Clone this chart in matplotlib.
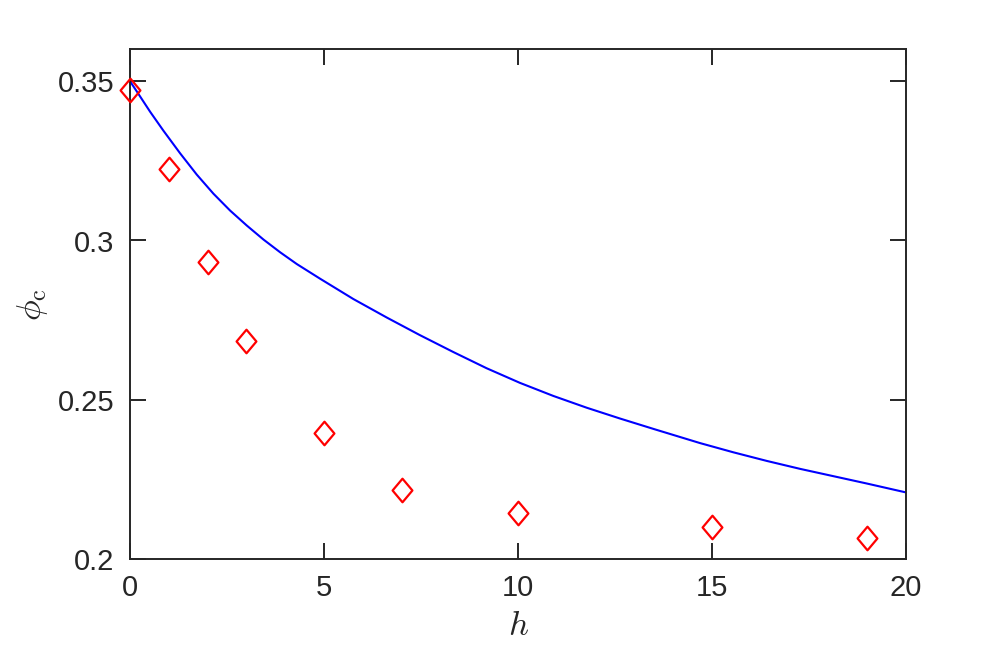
import matplotlib
matplotlib.use('Agg')
import matplotlib.pyplot as plt
from matplotlib.path import Path

# model curve
h_curve = [0, 0.17, 0.52, 0.86, 1.29, 1.72, 2.15, 2.58, 3.01, 3.44, 3.87, 4.30,
           4.90, 5.76, 6.62, 7.47, 8.33, 9.19, 10.05, 10.91, 11.77, 12.63,
           13.53, 14.69, 15.55, 16.41, 17.27, 18.13, 18.99, 20.0]
phi_curve = [0.3500, 0.3469, 0.3404, 0.3345, 0.3274, 0.3207, 0.3147, 0.3094,
             0.3047, 0.3003, 0.2963, 0.2926, 0.2880, 0.2816, 0.2758, 0.2703,
             0.2650, 0.2599, 0.2553, 0.2512, 0.2475, 0.2441, 0.2407, 0.2364,
             0.2335, 0.2308, 0.2283, 0.2260, 0.2237, 0.2209]

# simulation points
h_sim = [0, 1, 2, 3, 5, 7, 10, 15, 19]
phi_sim = [0.3471, 0.3225, 0.2934, 0.2686, 0.2396, 0.2216, 0.2143, 0.2101, 0.2065]

x_ticks = [0, 5, 10, 15, 20]
y_ticks = [0.2, 0.25, 0.3, 0.35]
y_ticklabels = ['0.2', '0.25', '0.3', '0.35']

plt.rcParams['mathtext.fontset'] = 'cm'
plt.rcParams['font.family'] = ['Liberation Sans', 'DejaVu Sans']

# matlab style diamond (taller than wide)
diamond = Path([(0, 1), (0.84, 0), (0, -1), (-0.84, 0), (0, 1)],
               [Path.MOVETO, Path.LINETO, Path.LINETO, Path.LINETO, Path.CLOSEPOLY])

fig = plt.figure(figsize=(10, 6.5), dpi=100)
ax = fig.add_axes([0.13, 0.14, 0.776, 0.784])

ax.plot(h_curve, phi_curve, color=(0, 0, 1), lw=1.5, zorder=2)
ax.plot(h_sim, phi_sim, ls='none', marker=diamond, ms=17, mfc='none',
        mec=(1, 0, 0), mew=1.6, zorder=3, clip_on=False)

ax.set_xlim(0, 20)
ax.set_ylim(0.2, 0.36)
ax.set_xticks(x_ticks)
ax.set_yticks(y_ticks)
ax.set_yticklabels(y_ticklabels)

dark = '#262626'
for s in ax.spines.values():
    s.set_color(dark)
    s.set_linewidth(1.4)
ax.tick_params(direction='in', length=11.5, width=1.4, color=dark,
               labelcolor=dark, labelsize=21, top=True, right=True)
ax.tick_params(axis='x', pad=11)
ax.tick_params(axis='y', pad=11)

ax.set_xlabel(r'$h$', fontsize=25, color=dark, labelpad=5)
ax.set_ylabel(r'$\phi_{\rm c}$', fontsize=25, color=dark, labelpad=6)

fig.savefig('out.png', dpi=100)
